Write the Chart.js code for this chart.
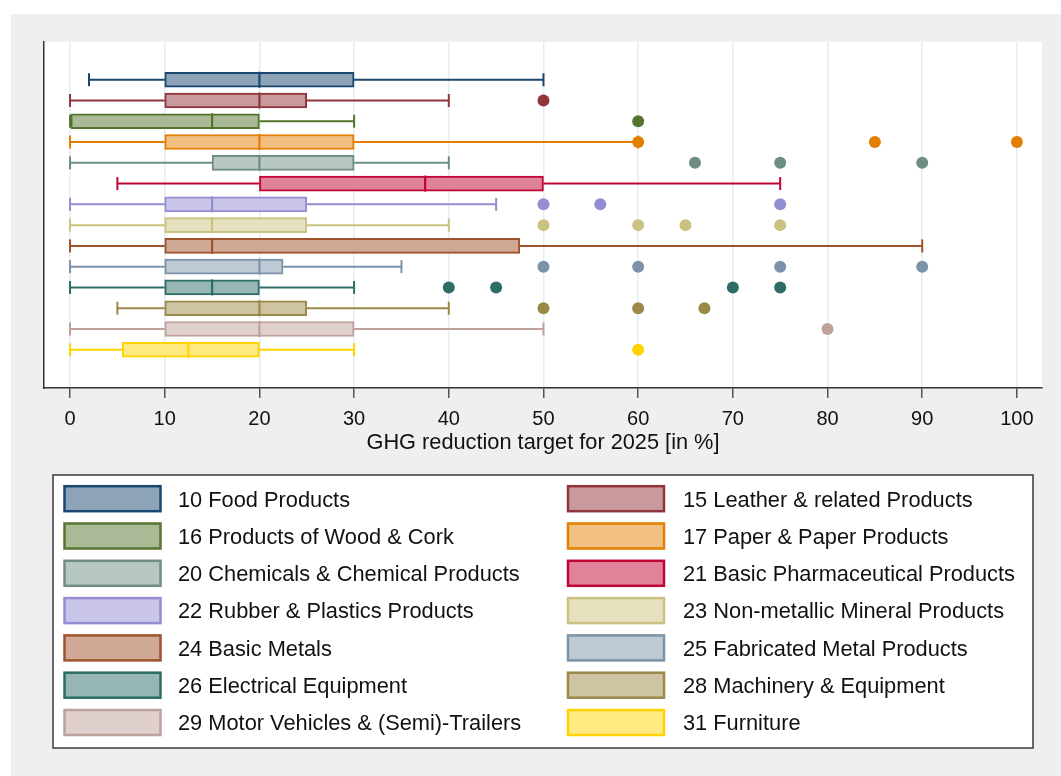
<!DOCTYPE html>
<html>
<head>
<meta charset="utf-8">
<script src="https://cdn.jsdelivr.net/npm/chart.js@4.4.1/dist/chart.umd.min.js"></script>
<style>
  html, body { margin: 0; padding: 0; background: #ffffff; }
  canvas { display: block; }
</style>
</head>
<body>
<canvas id="chart" width="1061" height="776"></canvas>
<script>
// Industry groups, top to bottom
const categories = [
  '10 Food Products',
  '15 Leather & related Products',
  '16 Products of Wood & Cork',
  '17 Paper & Paper Products',
  '20 Chemicals & Chemical Products',
  '21 Basic Pharmaceutical Products',
  '22 Rubber & Plastics Products',
  '23 Non-metallic Mineral Products',
  '24 Basic Metals',
  '25 Fabricated Metal Products',
  '26 Electrical Equipment',
  '28 Machinery & Equipment',
  '29 Motor Vehicles & (Semi)-Trailers',
  '31 Furniture'
];

// Box plot statistics (GHG reduction target for 2025, in %)
const lowerWhisker = [2, 0, 0, 0, 0, 5, 0, 0, 0, 0, 0, 5, 0, 0];
const q1           = [10, 10, 0, 10, 15, 20, 10, 10, 10, 10, 10, 10, 10, 5.5];
const median       = [20, 20, 15, 20, 20, 37.5, 15, 15, 15, 20, 15, 20, 20, 12.5];
const q3           = [30, 25, 20, 30, 30, 50, 25, 25, 47.5, 22.5, 20, 25, 30, 20];
const upperWhisker = [50, 40, 30, 60, 40, 75, 45, 40, 90, 35, 30, 40, 50, 30];
const outliers = [
  [], [50], [60], [60, 85, 100], [66, 75, 90], [], [50, 56, 75],
  [50, 60, 65, 75], [], [50, 60, 75, 90], [40, 45, 70, 75], [50, 60, 67], [80], [60]
];

const xTicks = [0, 10, 20, 30, 40, 50, 60, 70, 80, 90, 100];
const xTitle = 'GHG reduction target for 2025 [in %]';

const colors = [
  '#1a476f', '#90353b', '#55752f', '#e37e00', '#6e8e84', '#c10534', '#938dd2',
  '#cac27e', '#a0522d', '#7b92a8', '#2d6d66', '#9c8847', '#bfa19c', '#ffd200'
];

const FONT = '"Liberation Sans", Arial, sans-serif';

// 50% blend of a colour with white (opaque box fill)
function tint(hex) {
  const n = parseInt(hex.slice(1), 16);
  const r = (n >> 16) & 255, g = (n >> 8) & 255, b = n & 255;
  const m = v => Math.round((v + 255) / 2);
  return `rgb(${m(r)},${m(g)},${m(b)})`;
}

const rows = categories.map((_, i) => i + 1);

const datasets = [];

// Boxes: floating horizontal bars from Q1 to Q3
datasets.push({
  type: 'bar',
  label: 'box',
  indexAxis: 'y',
  data: rows.map((r, i) => ({ x: [q1[i], q3[i]], y: r })),
  backgroundColor: colors.map(tint),
  borderColor: colors,
  borderWidth: 2,
  borderSkipped: false,
  barThickness: 15,
  order: 2
});

// Medians
datasets.push({
  type: 'scatter',
  label: 'median',
  data: rows.map((r, i) => ({ x: median[i], y: r })),
  pointStyle: 'line',
  pointRotation: 90,
  pointRadius: 8,
  pointBorderWidth: 2.2,
  pointBorderColor: colors,
  order: 1
});

// Whisker end caps
datasets.push({
  type: 'scatter',
  label: 'caps',
  data: rows.flatMap((r, i) => [{ x: lowerWhisker[i], y: r }, { x: upperWhisker[i], y: r }]),
  pointStyle: 'line',
  pointRotation: 90,
  pointRadius: 6.5,
  pointBorderWidth: 2,
  pointBorderColor: colors.flatMap(c => [c, c]),
  order: 3
});

// Whisker lines, one dataset per group
rows.forEach((r, i) => {
  datasets.push({
    type: 'scatter',
    label: 'whisker ' + categories[i],
    showLine: true,
    spanGaps: false,
    data: [
      { x: lowerWhisker[i], y: r }, { x: q1[i], y: r },
      { x: null, y: null },
      { x: q3[i], y: r }, { x: upperWhisker[i], y: r }
    ],
    borderColor: colors[i],
    borderWidth: 2,
    pointRadius: 0,
    order: 4
  });
});

// Outside values
const outlierPoints = [];
const outlierColors = [];
rows.forEach((r, i) => {
  outliers[i].forEach(v => {
    outlierPoints.push({ x: v, y: r });
    outlierColors.push(colors[i]);
  });
});
datasets.push({
  type: 'scatter',
  label: 'outliers',
  data: outlierPoints,
  pointStyle: 'circle',
  pointRadius: 6,
  pointBorderWidth: 0,
  pointBackgroundColor: outlierColors,
  pointBorderColor: outlierColors,
  order: 0
});

// Page backdrop: grey frame and white plot region
const backdrop = {
  id: 'backdrop',
  beforeDraw(chart) {
    const { ctx, chartArea: a } = chart;
    ctx.save();
    ctx.fillStyle = '#ffffff';
    ctx.fillRect(0, 0, chart.width, chart.height);
    ctx.fillStyle = '#efefef';
    ctx.fillRect(11, 14, chart.width - 11, chart.height - 14);
    ctx.fillStyle = '#ffffff';
    ctx.fillRect(a.left, a.top, a.right - a.left, a.bottom - a.top);
    ctx.restore();
  }
};

// Two-column legend in a framed box below the axis
const boxLegend = {
  id: 'boxLegend',
  afterDraw(chart) {
    const { ctx } = chart;
    ctx.save();
    ctx.fillStyle = '#ffffff';
    ctx.fillRect(53, 475, 980, 273);
    ctx.strokeStyle = '#3a3a3a';
    ctx.lineWidth = 1.5;
    ctx.strokeRect(53, 475, 980, 273);

    ctx.font = `21.8px ${FONT}`;
    ctx.textBaseline = 'alphabetic';
    ctx.textAlign = 'left';
    categories.forEach((label, k) => {
      const col = k % 2;
      const row = Math.floor(k / 2);
      const cy = 498.7 + row * 37.3;
      const sx = col ? 568 : 64.5;
      ctx.fillStyle = tint(colors[k]);
      ctx.fillRect(sx, cy - 12.5, 96, 25);
      ctx.strokeStyle = colors[k];
      ctx.lineWidth = 2.5;
      ctx.strokeRect(sx, cy - 12.5, 96, 25);
      ctx.fillStyle = '#111111';
      ctx.fillText(label, col ? 683 : 178, cy + 7.8);
    });
    ctx.restore();
  }
};

const AXIS_H = 68;

new Chart(document.getElementById('chart'), {
  type: 'bar',
  data: { datasets },
  plugins: [backdrop, boxLegend],
  options: {
    responsive: false,
    animation: false,
    events: [],
    layout: { padding: { left: 44, top: 42, right: 19, bottom: 776 - 388 - AXIS_H } },
    plugins: {
      legend: { display: false },
      tooltip: { enabled: false },
      title: { display: false }
    },
    scales: {
      x: {
        type: 'linear',
        position: 'bottom',
        offset: false,
        min: -2.75,
        max: 102.65,
        afterBuildTicks: s => { s.ticks = xTicks.map(v => ({ value: v })); },
        afterFit: s => { s.height = AXIS_H; },
        grid: {
          offset: false,
          color: '#e4edf0',
          lineWidth: 1.5,
          drawTicks: true,
          tickLength: 10,
          tickColor: '#555555',
          tickWidth: 1.5
        },
        border: { display: true, color: '#333333', width: 1.5 },
        ticks: {
          color: '#111111',
          font: { family: FONT, size: 20 },
          padding: 9,
          maxRotation: 0,
          autoSkip: false
        },
        title: {
          display: true,
          text: xTitle,
          color: '#111111',
          font: { family: FONT, size: 21.75 },
          padding: { top: 0, bottom: 0 }
        }
      },
      y: {
        type: 'linear',
        reverse: true,
        offset: false,
        min: -0.815,
        max: 15.84,
        afterFit: s => { s.width = 0; },
        ticks: { display: false },
        grid: { display: false, drawTicks: false, offset: false },
        border: { display: true, color: '#333333', width: 1.5 }
      }
    }
  }
});
</script>
</body>
</html>
